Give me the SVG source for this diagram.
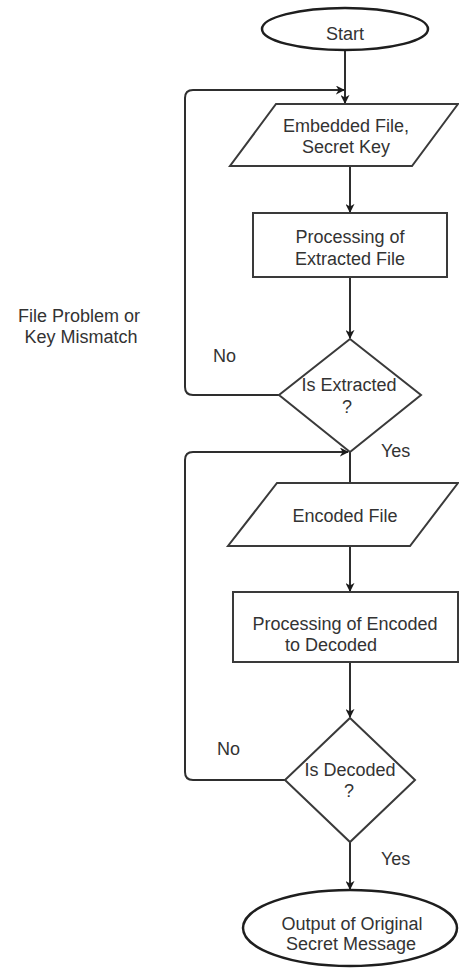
<svg xmlns="http://www.w3.org/2000/svg" width="459" height="969" viewBox="0 0 459 969">
  <style>
    .shape { fill: #ffffff; stroke: #3a3a3a; stroke-width: 2; }
    .term { fill: #ffffff; stroke: #1e1e1e; stroke-width: 2.5; }
    .edge { fill: none; stroke: #2e2e2e; stroke-width: 2; }
    .lbl { font-family: "Liberation Sans", Arial, sans-serif; font-size: 18px; fill: #333333; text-anchor: middle; }
    .note { font-family: "Liberation Sans", Arial, sans-serif; font-size: 18px; fill: #333333; }
  </style>
  <defs>
    <marker id="arrow" viewBox="0 0 10 10" refX="9" refY="5" markerWidth="9" markerHeight="9" markerUnits="userSpaceOnUse" orient="auto">
      <path d="M0,0 L10,5 L0,10 L3,5 Z" fill="#1a1a1a"/>
    </marker>
  </defs>
  <rect width="459" height="969" fill="#ffffff"/>

  <!-- connectors -->
  <g id="connectors">
    <path class="edge" d="M345,50 V103" marker-end="url(#arrow)"/>
    <path class="edge" d="M280,395 H193 Q185,395 185,387 V98 Q185,90 193,90 H344" marker-end="url(#arrow)"/>
    <path class="edge" d="M350,166 V212" marker-end="url(#arrow)"/>
    <path class="edge" d="M350,277 V338" marker-end="url(#arrow)"/>
    <path class="edge" d="M350,452 V483"/>
    <path class="edge" d="M285,780 H193 Q185,780 185,772 V460 Q185,452 193,452 H348" marker-end="url(#arrow)"/>
    <path class="edge" d="M350,546 V591" marker-end="url(#arrow)"/>
    <path class="edge" d="M350,662 V717" marker-end="url(#arrow)"/>
    <path class="edge" d="M350,842 V889" marker-end="url(#arrow)"/>
  </g>

  <!-- edge labels -->
  <g id="edge-labels">
    <text class="lbl" x="79" y="322">File Problem or</text>
    <text class="lbl" x="81" y="343">Key Mismatch</text>
    <text class="note" x="213" y="362">No</text>
    <text class="note" x="381" y="457">Yes</text>
    <text class="note" x="217" y="755">No</text>
    <text class="note" x="381" y="865">Yes</text>
  </g>

  <g id="start">
    <ellipse class="term" cx="345" cy="29" rx="83" ry="21"/>
    <text class="lbl" x="345" y="40">Start</text>
  </g>

  <g id="input-embedded">
    <polygon class="shape" points="276,104 458,104 412,166 230,166"/>
    <text class="lbl" x="346" y="132">Embedded File,</text>
    <text class="lbl" x="346" y="153">Secret Key</text>
  </g>

  <g id="process-extract">
    <rect class="shape" x="253" y="213" width="194" height="64"/>
    <text class="lbl" x="350" y="243">Processing of</text>
    <text class="lbl" x="350" y="265">Extracted File</text>
  </g>

  <g id="decision-extracted">
    <polygon class="shape" points="350,339 421,395 350,452 279,395"/>
    <text class="lbl" x="349" y="391">Is Extracted</text>
    <text class="lbl" x="347" y="413">?</text>
  </g>

  <g id="input-encoded">
    <polygon class="shape" points="277,483 458,483 410,546 228,546"/>
    <text class="lbl" x="345" y="522">Encoded File</text>
  </g>

  <g id="process-decode">
    <rect class="shape" x="233" y="592" width="225" height="70"/>
    <text class="lbl" x="345" y="630">Processing of Encoded</text>
    <text class="lbl" x="331" y="651">to Decoded</text>
  </g>

  <g id="decision-decoded">
    <polygon class="shape" points="350,718 415,780 350,842 285,780"/>
    <text class="lbl" x="350" y="776">Is Decoded</text>
    <text class="lbl" x="349" y="797">?</text>
  </g>

  <g id="output">
    <ellipse class="term" cx="350" cy="928" rx="107" ry="38"/>
    <text class="lbl" x="352" y="930">Output of Original</text>
    <text class="lbl" x="351" y="950">Secret Message</text>
  </g>
</svg>
